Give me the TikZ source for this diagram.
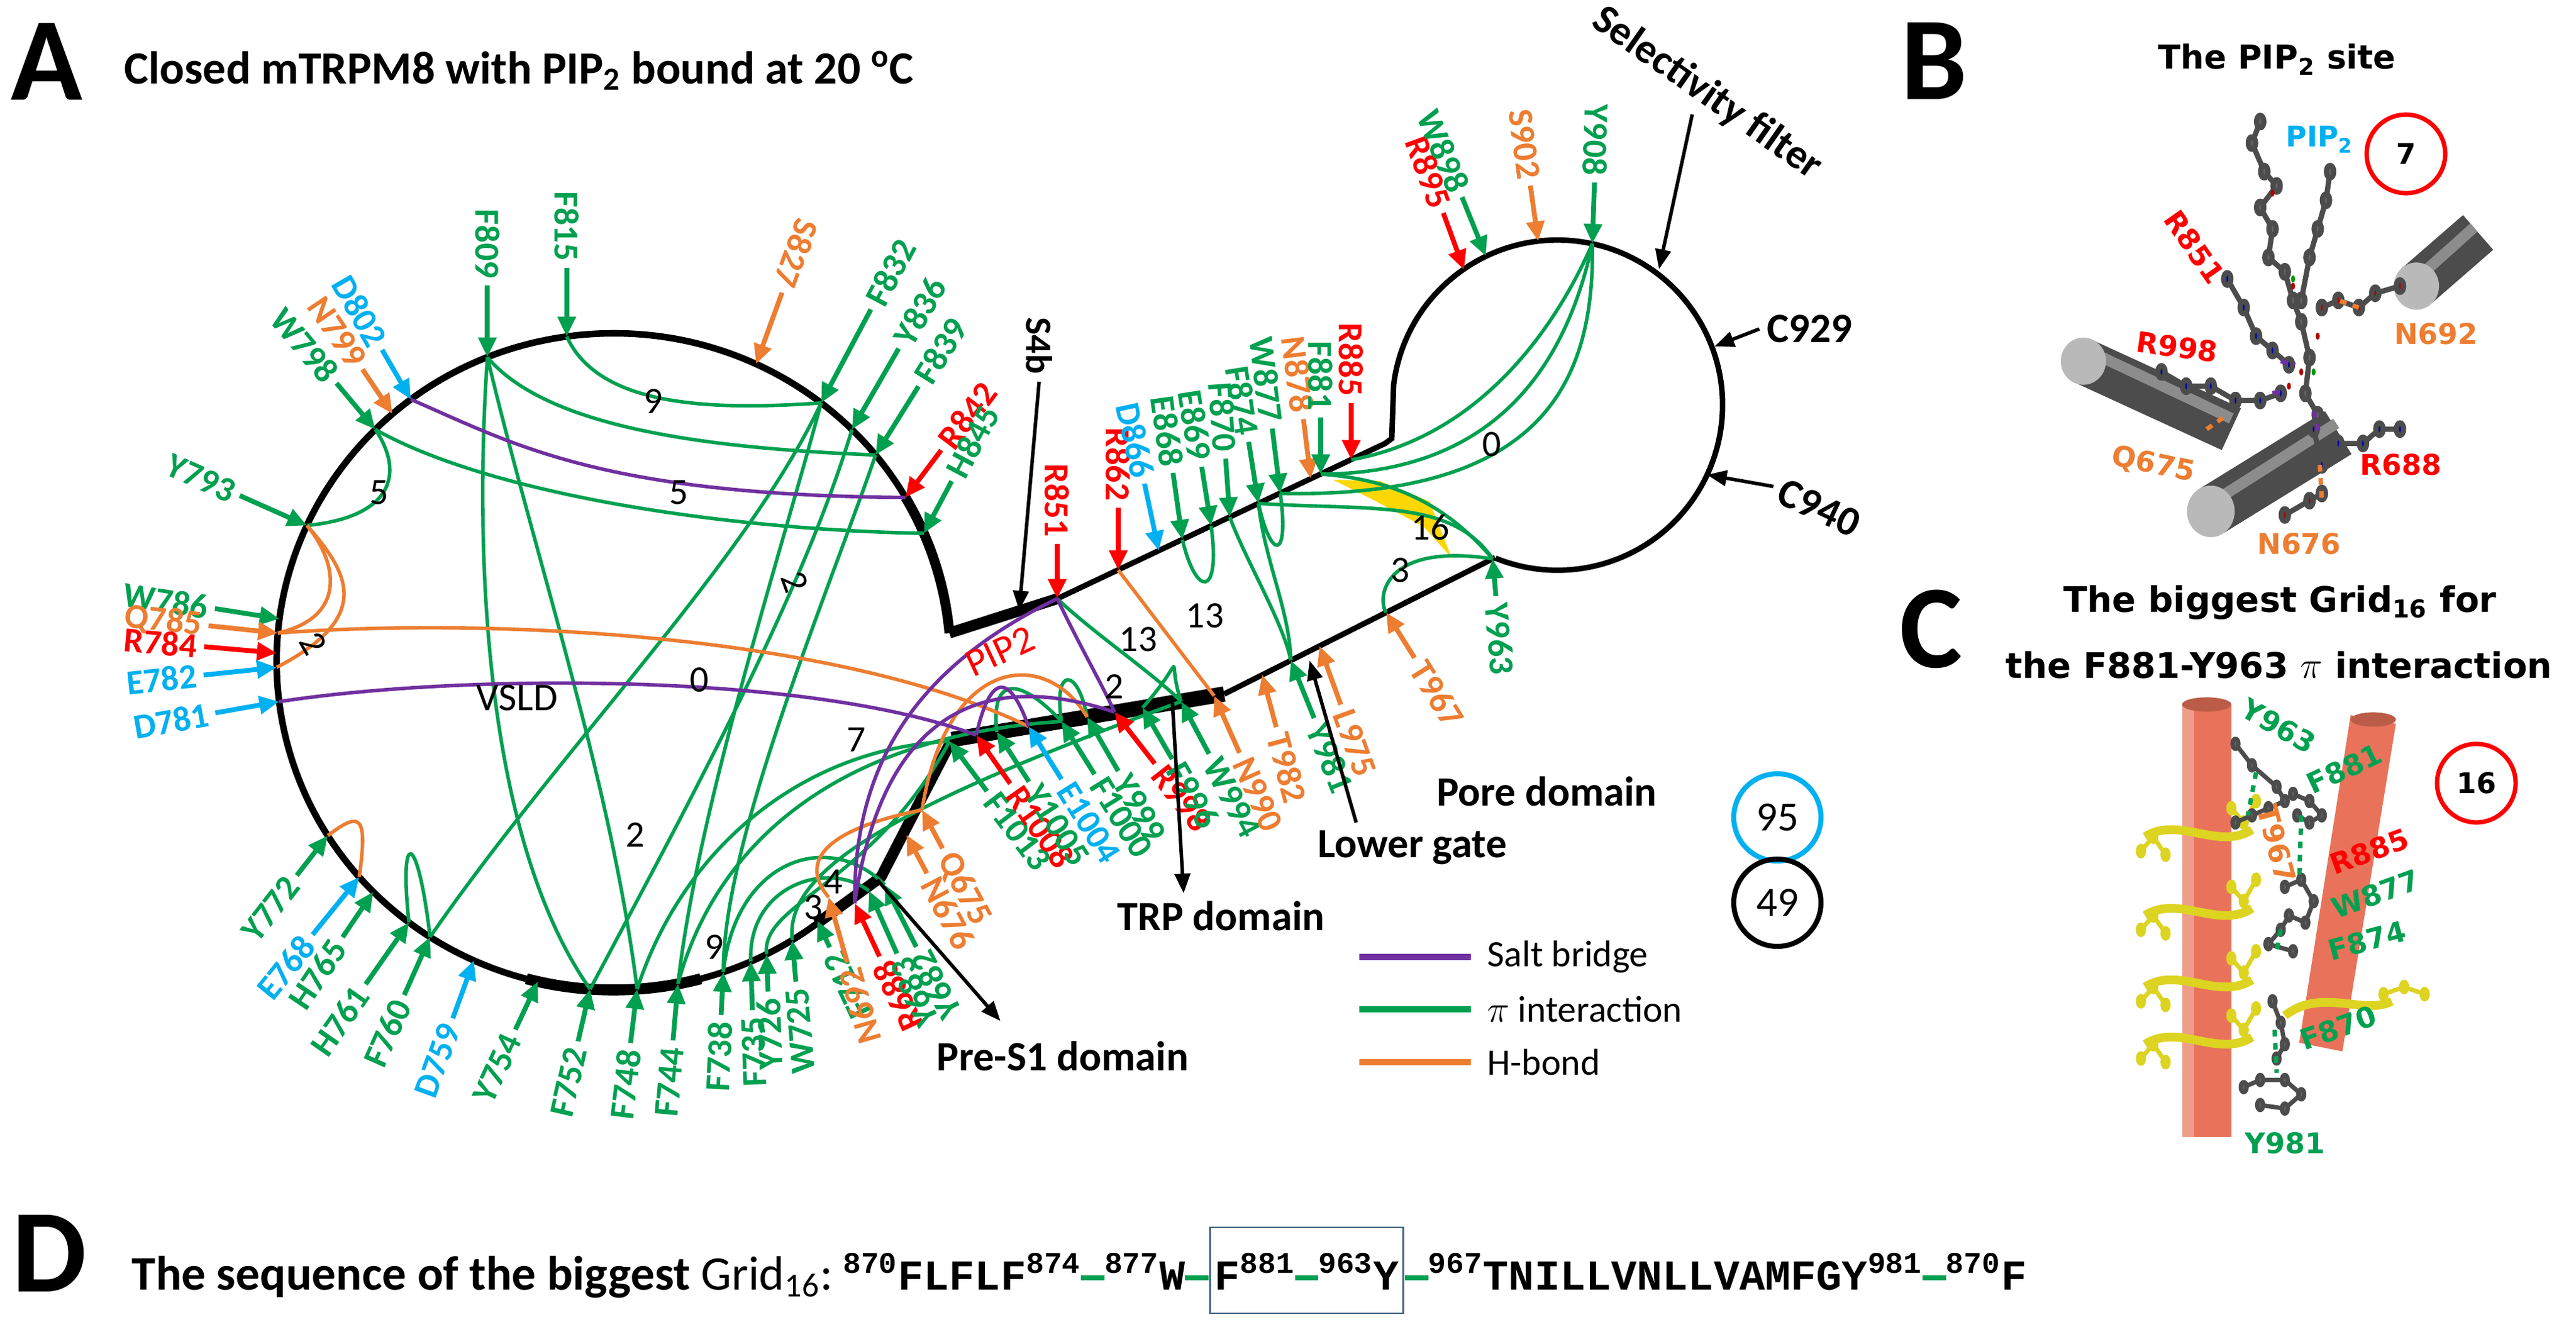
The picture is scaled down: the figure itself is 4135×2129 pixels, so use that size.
\documentclass[tikz,border=0pt]{standalone}
\usepackage{fontspec}
\setmainfont{Carlito}
\newfontfamily\dvs{DejaVu Sans}
\newfontfamily\mono{Liberation Mono}
\usetikzlibrary{calc,arrows.meta}
\definecolor{pg}{RGB}{0,160,80}
\definecolor{hor}{RGB}{237,125,49}
\definecolor{sbp}{RGB}{112,48,160}
\definecolor{rd}{RGB}{255,0,0}
\definecolor{bl}{RGB}{0,176,240}
\definecolor{salmon}{RGB}{232,115,90}
\definecolor{boxb}{RGB}{70,100,130}
\tikzset{
 rl/.style={font=\bfseries\fontsize{16}{16}\selectfont,inner sep=3pt},
 ra/.style={line width=2.2pt,-{Triangle[length=9pt,width=8pt]}},
 con/.style={line width=1.6pt},
 num/.style={font=\fontsize{17}{17}\selectfont,inner sep=1pt},
 dom/.style={font=\bfseries\fontsize{19}{19}\selectfont},
 bk/.style={line width=1.6pt,-{Triangle[length=9pt,width=7pt]}},
 big/.style={font=\bfseries\fontsize{54}{54}\selectfont},
 bl13/.style={font=\dvs\bfseries\fontsize{13}{13}\selectfont,inner sep=1pt},
 stick/.style={line width=2.4pt,black!70,line join=round},
}
\newcommand\labT[6]{\node[rl,text=#1,rotate={#5+180},anchor=east] (#2) at ($(#4)+({0-(#5)}:#6)$) {#3};
 \draw[ra,#1] (#2.east) -- (#4);}
\newcommand\labA[6]{\node[rl,text=#1,rotate={#5},anchor=west] (#2) at ($(#4)+({0-(#5)}:#6)$) {#3};
 \draw[ra,#1] (#2.west) -- (#4);}
\begin{document}
\begin{tikzpicture}[x=0.01cm,y=-0.01cm]
\useasboundingbox (0,0) rectangle (4135,2129);
\fill[white] (0,0) rectangle (4135,2129);
% ---------- Panel A frame
\node[big] (LA) at (75,99) {A};
\node[anchor=base west,font=\bfseries\fontsize{21}{21}\selectfont] (tA) at (187,134) {Closed mTRPM8 with PIP\textsubscript{2} bound at 20 \textsuperscript{o}C};
\coordinate (V) at (985,1062);
\draw[line width=3pt] ($(V)+(-5:541 and 527)$) arc[start angle=-5,end angle=-307,x radius=541,y radius=527];
\draw[line width=5pt] ($(V)+(75:541 and 527)$) arc[start angle=75,end angle=105,x radius=541,y radius=527];
\draw[line width=4.5pt] ($(V)+(-5:541 and 527)$) arc[start angle=-5,end angle=-30,x radius=541,y radius=527];
\coordinate (J1) at ($(V)+(-5:541 and 527)$);
\coordinate (U1) at (1697,961); \coordinate (U2) at (2223,712);
\coordinate (P1) at ($(V)+(53:541 and 527)$); \coordinate (P2) at (1414,1408);
\coordinate (T1) at (1528,1187); \coordinate (T2) at (1965,1114); \coordinate (L2) at (2400,895);
\draw[line width=5pt] (J1) -- (U1);
\draw[line width=2.5pt] (U1) -- (U2) -- (2234,704) -- (2237,618) arc[start angle=-173,end angle=112,radius=265];
\draw[line width=5pt,line join=round] (P1) -- (P2) -- (T1);
\draw[line width=7pt] (T1) -- (T2);
\draw[line width=2.5pt] (T2) -- (L2);
% yellow grid region
\fill[yellow!75!orange] (2140,770) -- (2215,772) -- (2295,805) -- (2330,895) -- (2285,845) -- (2200,800) -- cycle;
% ---------- tips on VSLD
\foreach \n/\a in {F809/112,F815/98,D802/127,N799/131,W798/135,Y793/155.5,S827/65,F832/52,Y836/45,F839/39,R842/30,H845/23,W786/172.5,Q785/175,R784/178.5,E782/181,D781/187,Y772/212,E768/221,H765/224.5,H761/232.6,F760/237,D759/245.5,Y754/257,F752/266,F748/274,F744/281,F738/289,F735/294,Y726/297,W725/302}
 {\coordinate (t\n) at ($(V)+({0-\a}:541 and 527)$);}
\coordinate (tF712) at (1312,1478); \coordinate (tN692) at (1330,1440); \coordinate (tR688) at (1372,1450);
\coordinate (tY683) at (1395,1430); \coordinate (tY682) at (1420,1420);
\coordinate (tQ675) at (1480,1300); \coordinate (tN676) at (1455,1340);
\coordinate (tF1013) at (1524,1190); \coordinate (tR1008) at (1567,1180); \coordinate (tY1005) at (1600,1175);
\coordinate (tE1004) at (1651,1166); \coordinate (tF1000) at (1704,1158); \coordinate (tY999) at (1745,1151);
\coordinate (tR998) at (1789,1143); \coordinate (tF996) at (1834,1136); \coordinate (tW994) at (1896,1126);
\coordinate (tN990) at (1949,1117); \coordinate (tT982) at (2026,1083); \coordinate (tY981) at (2072,1060);
\coordinate (tL975) at (2118,1037); \coordinate (tT967) at (2225,983); \coordinate (tY963) at (2396,897);
\coordinate (tR851) at (1697,961); \coordinate (tR862) at (1795,915); \coordinate (tD866) at (1860,884);
\coordinate (tE868) at (1898,866); \coordinate (tE869) at (1944,844); \coordinate (tF870) at (1974,830);
\coordinate (tF874) at (2020,808); \coordinate (tW877) at (2055,792); \coordinate (tN878) at (2104,768);
\coordinate (tF881) at (2120,761); \coordinate (tR885) at (2169,738);
\coordinate (tR895) at (2350,433); \coordinate (tW898) at (2385,411); \coordinate (tS902) at (2469,387); \coordinate (tY908) at (2556,391);
% ---------- interaction curves
\begin{scope}[con,pg]
\draw (tF815) .. controls (960,650) and (1130,660) .. (tF832);
\draw (tF809) .. controls (880,690) and (1150,720) .. (tF839);
\draw (tF809) .. controls (760,900) and (780,1350) .. (tF752);
\draw (tF809) .. controls (860,900) and (980,1250) .. (tF748);
\draw (tW798) .. controls (780,790) and (1150,850) .. (tH845);
\draw (tW798) .. controls (650,760) and (630,830) .. (tY793);
\draw (tF832) .. controls (1250,900) and (1120,1300) .. (tF744);
\draw (tY836) .. controls (1290,950) and (1100,1300) .. (tF752);
\draw (tF839) .. controls (1330,950) and (1160,1350) .. (tF738);
\draw (tF832) .. controls (1200,900) and (900,1200) .. (tF760);
\draw (tH761) .. controls (640,1330) and (670,1330) .. (tF760);
\draw (tF748) .. controls (1100,1350) and (1300,1200) .. (tF1013);
\draw (tF744) .. controls (1150,1350) and (1350,1180) .. (tF1000);
\draw (tF738) .. controls (1180,1380) and (1330,1330) .. (tY682);
\draw (tF735) .. controls (1200,1420) and (1330,1380) .. (tY683);
\draw (tW725) .. controls (1260,1400) and (1420,1300) .. (tW994);
\draw (tY726) .. controls (1220,1450) and (1400,1420) .. (tF1013);
\draw (tR851) .. controls (1760,1020) and (1850,1080) .. (tW994);
\draw (tF870) .. controls (2000,900) and (2060,1000) .. (tY981);
\draw (tF874) .. controls (2030,900) and (2070,980) .. (tY981);
\draw (tE868) .. controls (1920,960) and (1960,960) .. (tE869);
\draw (tF874) .. controls (2040,900) and (2070,900) .. (tW877);
\draw (tF1000) .. controls (1690,1070) and (1730,1070) .. (tY999);
\draw (tW994) .. controls (1870,1050) and (1910,1050) .. (tF996);
\draw (tY1005) .. controls (1590,1080) and (1640,1090) .. (tF1000);
\draw (tY908) .. controls (2520,560) and (2420,760) .. (tF881);
\draw (tY908) .. controls (2560,620) and (2470,800) .. (tW877);
\draw (tY908) .. controls (2500,520) and (2380,700) .. (tR885);
\draw (tY963) .. controls (2330,820) and (2250,770) .. (tF881);
\draw (tF874) .. controls (2200,820) and (2330,800) .. (tY963);
\draw (tY963) .. controls (2220,870) and (2210,960) .. (tT967);
\end{scope}
\begin{scope}[con,hor]
\draw (tY793) .. controls (560,920) and (600,990) .. (tE782);
\draw (tY793) .. controls (540,900) and (560,990) .. (tQ785);
\draw (tQ785) .. controls (800,990) and (1350,1020) .. (tE1004);
\draw (tY772) .. controls (580,1300) and (590,1310) .. (tE768);
\draw (tR862) -- (tN990);
\draw (tQ675) .. controls (1520,1050) and (1680,1040) .. (tY999);
\draw (tN692) .. controls (1280,1380) and (1330,1330) .. (tQ675);
\end{scope}
\begin{scope}[con,sbp]
\draw (tD802) .. controls (820,710) and (960,795) .. (tR842);
\draw (tD781) .. controls (750,1080) and (1300,1080) .. (tR1008);
\draw (tR851) .. controls (1450,1080) and (1370,1250) .. (tR688);
\draw (tR851) .. controls (1740,1050) and (1770,1100) .. (tR998);
\draw (tR998) .. controls (1600,1080) and (1420,1120) .. (tR688);
\draw (tR1008) .. controls (1590,1080) and (1620,1080) .. (tE1004);
\end{scope}
% ---------- residue labels
\labT{pg}{F809}{F809}{tF809}{90}{115}
\labT{pg}{F815}{F815}{tF815}{90}{110}
\labT{bl}{D802}{D802}{tD802}{120}{92}
\labT{hor}{N799}{N799}{tN799}{124}{86}
\labT{pg}{W798}{W798}{tW798}{130}{97}
\labT{pg}{Y793}{Y793}{tY793}{156}{118}
\labT{hor}{S827}{S827}{tS827}{70}{122}
\labA{pg}{F832}{F832}{tF832}{62}{170}
\labA{pg}{Y836}{Y836}{tY836}{60}{150}
\labA{pg}{F839}{F839}{tF839}{58}{130}
\labA{rd}{R842}{R842}{tR842}{53}{95}
\labA{pg}{H845}{H845}{tH845}{62}{95}
\labT{pg}{W786}{W786}{tW786}{171}{105}
\labT{hor}{Q785}{Q785}{tQ785}{174}{112}
\labT{rd}{R784}{R784}{tR784}{175}{117}
\labT{bl}{E782}{E782}{tE782}{186}{118}
\labT{bl}{D781}{D781}{tD781}{190}{104}
\labT{pg}{Y772}{Y772}{tY772}{232}{81}
\labT{bl}{E768}{E768}{tE768}{231}{119}
\labT{pg}{H765}{H765}{tH765}{236}{88}
\labT{pg}{H761}{H761}{tH761}{235}{121}
\labT{pg}{F760}{F760}{tF760}{246}{102}
\labT{bl}{D759}{D759}{tD759}{250}{99}
\labT{pg}{Y754}{Y754}{tY754}{245}{85}
\labT{pg}{F752}{F752}{tF752}{257}{86}
\labT{pg}{F748}{F748}{tF748}{263}{87}
\labT{pg}{F744}{F744}{tF744}{265}{91}
\labT{pg}{F738}{F738}{tF738}{267}{69}
\labT{pg}{F735}{F735}{tF735}{272}{78}
\labT{pg}{Y726}{Y726}{tY726}{272}{60}
\labT{pg}{W725}{W725}{tW725}{275}{67}
\labT{pg}{F712}{F712}{tF712}{295}{47}
\labT{hor}{N692}{N692}{tN692}{286}{109}
\labT{rd}{R688}{R688}{tR688}{295}{94}
\labT{pg}{Y683}{Y683}{tY683}{294}{110}
\labT{pg}{Y682}{Y682}{tY682}{297}{112}
\labA{hor}{Q675}{Q675}{tQ675}{-62}{70}
\labA{hor}{N676}{N676}{tN676}{-62}{70}
\labA{pg}{F1013}{F1013}{tF1013}{-53}{100}
\labA{rd}{R1008}{R1008}{tR1008}{-55}{95}
\labA{pg}{Y1005}{Y1005}{tY1005}{-57}{95}
\labA{bl}{E1004}{E1004}{tE1004}{-58}{100}
\labA{pg}{F1000}{F1000}{tF1000}{-58}{100}
\labA{pg}{Y999}{Y999}{tY999}{-60}{100}
\labA{rd}{R998}{R998}{tR998}{-52}{105}
\labA{pg}{F996}{F996}{tF996}{-60}{95}
\labA{pg}{W994}{W994}{tW994}{-62}{95}
\labA{hor}{N990}{N990}{tN990}{-66}{100}
\labA{hor}{T982}{T982}{tT982}{-75}{87}
\labA{pg}{Y981}{Y981}{tY981}{-68}{100}
\labA{hor}{L975}{L975}{tL975}{-70}{100}
\labA{hor}{T967}{T967}{tT967}{-58}{86}
\labA{pg}{Y963}{Y963}{tY963}{-85}{60}
\labT{rd}{R851}{R851}{tR851}{90}{88}
\labT{rd}{R862}{R862}{tR862}{90}{100}
\labT{bl}{D866}{D866}{tD866}{102}{110}
\labT{pg}{E868}{E868}{tE868}{98}{108}
\labT{pg}{E869}{E869}{tE869}{99}{96}
\labT{pg}{F870}{F870}{tF870}{94}{94}
\labT{pg}{F874}{F874}{tF874}{99}{100}
\labT{pg}{W877}{W877}{tW877}{97}{105}
\labT{hor}{N878}{N878}{tN878}{97}{96}
\labT{pg}{F881}{F881}{tF881}{90}{91}
\labT{rd}{R885}{R885}{tR885}{90}{91}
\labT{rd}{R895}{R895}{tR895}{110}{97}
\labT{pg}{W898}{W898}{tW898}{112}{102}
\labT{hor}{S902}{S902}{tS902}{98}{90}
\labT{pg}{Y908}{Y908}{tY908}{88}{98}
% ---------- numbers
\foreach \i/\p/\t/\r in {n1/{609,791}/5/0,n2/{1049,644}/9/0,n3/{1090,791}/5/0,n4/{503,1033}/2/-60,n5/{1123,1091}/0/0,n6/{1020,1340}/2/0,n7/{1276,934}/2/-70,n8/{1375,1187}/7/0,n9/{1827,1026}/13/0,n10/{1934,988}/13/0,n11/{1789,1102}/2/0,n12/{2248,915}/3/0,n13/{2296,847}/16/0,n14/{2395,713}/0/0,n15/{1338,1415}/4/0,n16/{1306,1456}/3/0,n17/{1147,1520}/9/0}
 {\node[num,rotate=\r] (\i) at (\p) {\t};}
\node[font=\fontsize{18}{18}\selectfont] (vsld) at (830,1120) {VSLD};
\node[text=rd,rotate=25,font=\fontsize{18}{18}\selectfont] (pip) at (1605,1045) {PIP2};
% ---------- domain labels and black arrows
\node[font=\bfseries\fontsize{17}{17}\selectfont,rotate=-90] (s4b) at (1668,555) {S4b};
\coordinate (s4t) at (1636,980);
\draw[bk] (s4b.east) -- (s4t);
\node[dom,rotate=-35] (sf) at (2740,150) {Selectivity filter};
\coordinate (sft) at (2663,432);
\draw[bk] (sf.south) -- (sft);
\node[dom] (c929) at (2905,528) {C929};
\coordinate (c929t) at (2752,556);
\draw[bk] (c929.west) -- (c929t);
\node[dom,rotate=-25] (c940) at (2920,815) {C940};
\coordinate (c940t) at (2740,762);
\draw[bk] (c940.west) -- (c940t);
\node[dom] (trp) at (1960,1470) {TRP domain};
\coordinate (trpS) at (1882,1128);
\draw[bk] (trpS) -- ([xshift=-0.6cm]trp.north);
\node[dom] (pre) at (1706,1695) {Pre-S1 domain};
\coordinate (ps1) at (1408,1412);
\draw[bk] (ps1) -- ([xshift=-1cm,yshift=0.2cm]pre.north);
\node[dom] (lg) at (2267,1360) {Lower gate};
\coordinate (lgt) at (2102,1060);
\draw[bk] ([xshift=-0.9cm]lg.north) -- (lgt);
\node[dom] (pd) at (2483,1270) {Pore domain};
\node[circle,draw=bl,line width=2.3pt,minimum size=1.4cm,inner sep=0pt,font=\fontsize{19}{19}\selectfont] (c95) at (2853,1312) {95};
\node[circle,draw=black,line width=2.3pt,minimum size=1.4cm,inner sep=0pt,font=\fontsize{19}{19}\selectfont] (c49) at (2853,1449) {49};
% legend
\foreach \i/\c/\y/\t in {sb/sbp/1536/Salt bridge,pi/pg/1620/$\pi$ interaction,hb/hor/1705/H-bond}{
 \coordinate (\i a) at (2182,\y); \coordinate (\i b) at (2361,\y);
 \draw[line width=2.6pt,\c] (\i a) -- (\i b);
 \node[anchor=west,font=\fontsize{17}{17}\selectfont] (\i t) at (2375,\y) {\t};}
% ---------- Panel B
\node[big] (LB) at (3105,98) {B};
\node[font=\dvs\bfseries\fontsize{15}{15}\selectfont] (tB) at (3655,95) {The PIP\textsubscript{2} site};
\begin{scope}[shift={(3100,0)},xscale=0.66,yscale=1.148]
 \draw[line width=21pt,black!70] (1180,400) -- (1330,325);
 \draw[line width=5pt,black!45] (1190,385) -- (1320,318);
 \fill[gray!55] (1180,400) ellipse (55 and 33);
 \draw[line width=21pt,black!70] (370,505) -- (730,600);
 \draw[line width=5pt,black!45] (380,490) -- (730,585);
 \fill[gray!55] (370,505) ellipse (55 and 33);
 \draw[line width=23pt,black!70] (680,715) -- (990,605);
 \draw[line width=5pt,black!45] (690,700) -- (985,592);
 \fill[gray!55] (680,715) ellipse (58 and 36);
 \draw[stick] plot[mark=*,mark size=2.5pt,mark options={fill=black!60}] coordinates {(800,170)(780,200)(810,240)(840,260)(800,290)(830,320)(820,360)(860,380)(880,420)(900,450)(920,500)(910,550)(940,580)};
 \draw[stick] plot[mark=*,mark size=2.5pt,mark options={fill=black!60}] coordinates {(970,240)(960,280)(940,320)(920,360)(900,420)};
 \draw[stick] plot[mark=*,mark size=2.5pt,mark options={fill=blue!70!black}] coordinates {(720,390)(760,430)(790,470)(830,490)(870,510)};
 \draw[stick] plot[mark=*,mark size=2.5pt,mark options={fill=blue!70!black}] coordinates {(560,520)(620,540)(680,540)(740,560)(800,560)(850,550)};
 \draw[stick] plot[mark=*,mark size=2.5pt,mark options={fill=red!70!black}] coordinates {(1140,400)(1080,410)(1040,430)(990,420)(950,430)};
 \draw[stick] plot[mark=*,mark size=2.5pt,mark options={fill=blue!70!black}] coordinates {(1140,600)(1090,600)(1050,620)(990,620)(950,650)(930,600)};
 \draw[stick] plot[mark=*,mark size=2.5pt,mark options={fill=red!70!black}] coordinates {(860,720)(920,700)(950,690)};
 \fill[red!70!black] (830,270) circle (5) (880,400) circle (5) (940,470) circle (5) (900,520) circle (5) (870,540) circle (5);
 \fill[green!60!black] (880,390) circle (5) (930,520) circle (5);
 \draw[sbp,line width=2pt,dashed] (850,505) -- (885,510) (830,550) -- (860,545) (930,575) -- (945,610);
 \draw[hor,line width=2pt,dashed] (1040,430) -- (990,420) (945,650) -- (950,700) (670,600) -- (720,580);
 \node[bl13,text=bl] (pipB) at (945,195) {PIP\textsubscript{2}};
 \node[bl13,text=rd,rotate=-55] (r851B) at (640,345) {R851};
 \node[bl13,text=hor] (n692B) at (1228,467) {N692};
 \node[bl13,text=rd,rotate=-8] (r998B) at (598,485) {R998};
 \node[bl13,text=hor,rotate=-12] (q675B) at (540,650) {Q675};
 \node[bl13,text=rd] (r688B) at (1142,650) {R688};
 \node[bl13,text=hor] (n676B) at (895,760) {N676};
\end{scope}
\node[circle,draw=rd,line width=2pt,minimum size=1.26cm,inner sep=0pt,font=\dvs\bfseries\fontsize{13}{13}\selectfont] (c7) at (3862,247) {7};
% ---------- Panel C
\node[big] (LC) at (3100,1010) {C};
\node[font=\dvs\bfseries\fontsize{16}{16}\selectfont] (tC1) at (3660,967) {The biggest Grid\textsubscript{16} for};
\node[font=\dvs\bfseries\fontsize{16}{16}\selectfont] (tC2) at (3658,1068) {the F881-Y963 $\pi$ interaction};
\begin{scope}[shift={(3100,0)},xscale=0.66,yscale=1.148]
 \fill[salmon] (610,985) rectangle (730,1590);
 \fill[salmon!70!white] (610,985) rectangle (640,1590);
 \fill[salmon!80!black] (670,985) ellipse (60 and 10);
 \fill[salmon] (1020,1000) -- (1130,1012) -- (1000,1470) -- (895,1458) -- cycle;
 \fill[salmon!80!black] (1075,1006) ellipse (55 and 10);
 \foreach \yy in {1170,1280,1380,1460}{
  \draw[yellow!85!black,line width=4pt] (520,\yy) .. controls (600,\yy-30) and (700,\yy+20) .. (780,\yy-10);
  \draw[yellow!85!black,line width=2pt] plot[mark=*,mark size=2pt] coordinates {(510,\yy+20)(540,\yy)(570,\yy+25)};
  \draw[yellow!85!black,line width=2pt] plot[mark=*,mark size=2pt] coordinates {(730,\yy-40)(760,\yy-20)(790,\yy-50)};}
 \draw[yellow!85!black,line width=4pt] (860,1420) .. controls (950,1380) and (1050,1420) .. (1120,1400);
 \draw[yellow!85!black,line width=2pt] plot[mark=*,mark size=2pt] coordinates {(1100,1390)(1150,1380)(1200,1390)};
 \draw[stick,line width=2pt] plot[mark=*,mark size=2pt,mark options={fill=black!60}] coordinates {(740,1040)(780,1070)(840,1100)(860,1120)(820,1130)(780,1140)(740,1150)};
 \draw[stick,line width=2pt] plot[mark=*,mark size=2pt,mark options={fill=black!60}] coordinates {(880,1110)(920,1120)(950,1140)(920,1150)(890,1140)};
 \draw[stick,line width=2pt] plot[mark=*,mark size=2pt,mark options={fill=black!60}] coordinates {(860,1240)(900,1230)(930,1260)(910,1290)(870,1280)(850,1300)(820,1320)(880,1330)};
 \draw[stick,line width=2pt] plot[mark=*,mark size=2pt,mark options={fill=black!60}] coordinates {(830,1400)(850,1430)(860,1460)(840,1480)};
 \draw[stick,line width=2pt] plot[mark=*,mark size=2pt,mark options={fill=black!60}] coordinates {(760,1520)(800,1510)(860,1510)(900,1530)(860,1550)(800,1545)};
 \draw[pg,line width=2pt,dashed] (790,1080) -- (770,1140) (900,1140) -- (895,1230) (850,1300) -- (840,1330) (835,1440) -- (840,1500);
 \node[bl13,text=pg,rotate=-30] (y963C) at (845,1015) {Y963};
 \node[bl13,text=pg,rotate=25] (f881C) at (1005,1075) {F881};
 \node[bl13,text=hor,rotate=-75] (t967C) at (840,1180) {T967};
 \node[bl13,text=rd,rotate=20] (r885C) at (1065,1190) {R885};
 \node[bl13,text=pg,rotate=20] (w877C) at (1080,1250) {W877};
 \node[bl13,text=pg,rotate=15] (f874C) at (1060,1315) {F874};
 \node[bl13,text=pg,rotate=20] (f870C) at (990,1437) {F870};
 \node[bl13,text=pg] (y981C) at (860,1598) {Y981};
\end{scope}
\node[circle,draw=rd,line width=2pt,minimum size=1.26cm,inner sep=0pt,font=\dvs\bfseries\fontsize{13}{13}\selectfont] (c16) at (3975,1257) {16};
% ---------- Panel D
\node[big] (LD) at (79,2012) {D};
\node[anchor=base west,font=\bfseries\fontsize{22}{22}\selectfont,inner sep=0pt] (tD) at (211,2070) {The sequence of the biggest \mdseries Grid\textsubscript{16}:};
\newcommand\gd{\raisebox{0.22em}{\textcolor{pg}{\rule{0.55em}{0.12em}}}}
\tikzset{sq/.style={font=\mono\bfseries\fontsize{19.5}{19.5}\selectfont,inner sep=0pt,anchor=base west}}
\node[sq] (s1) at ([xshift=0.15cm]tD.base east) {\textsuperscript{870}FLFLF\textsuperscript{874}\gd\textsuperscript{877}W\gd};
\node[sq,draw=boxb,line width=0.8pt,text height=1.0cm,text depth=0.38cm,inner xsep=2pt] (s2) at (s1.base east) {F\textsuperscript{881}\gd\textsuperscript{963}Y};
\node[sq] (s3) at (s2.base east) {\gd\textsuperscript{967}TNILLVNLLVAMFGY\textsuperscript{981}\gd\textsuperscript{870}F};
\end{tikzpicture}
\end{document}
